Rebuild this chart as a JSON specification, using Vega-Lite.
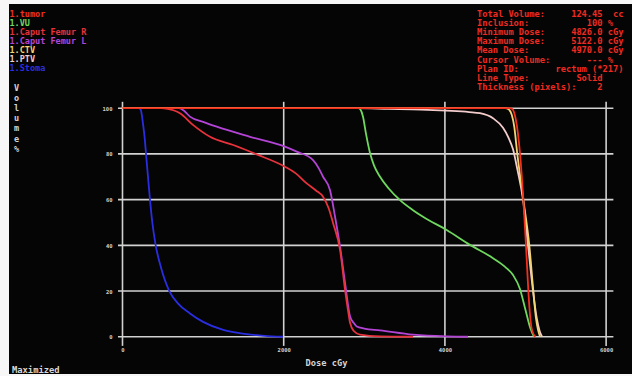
{
  "$schema": "https://vega.github.io/schema/vega-lite/v6.json",
  "width": 623,
  "height": 370,
  "autosize": {"type": "none"},
  "padding": {"left": 9, "top": 4, "right": 0, "bottom": 2},
  "background": "#f7f7f7",
  "config": {"view": {"fill": "#050505", "stroke": null}, "font": "DejaVu Sans Mono"},
  "resolve": {"axis": {"x": "independent", "y": "independent"}},
  "title": {
    "text": [
      "Total Volume:\u00a0\u00a0\u00a0\u00a0\u00a0124.45\u00a0\u00a0cc",
      "Inclusion:\u00a0\u00a0\u00a0\u00a0\u00a0\u00a0\u00a0\u00a0\u00a0\u00a0\u00a0100\u00a0%",
      "Minimum Dose:\u00a0\u00a0\u00a0\u00a0\u00a04826.0\u00a0cGy",
      "Maximum Dose:\u00a0\u00a0\u00a0\u00a0\u00a05122.0\u00a0cGy",
      "Mean Dose:\u00a0\u00a0\u00a0\u00a0\u00a0\u00a0\u00a0\u00a04970.0\u00a0cGy",
      "Cursor Volume:\u00a0\u00a0\u00a0\u00a0\u00a0\u00a0\u00a0---\u00a0%",
      "Plan ID:\u00a0\u00a0\u00a0\u00a0\u00a0\u00a0\u00a0rectum\u00a0(*217)",
      "Line Type:\u00a0\u00a0\u00a0\u00a0\u00a0\u00a0\u00a0\u00a0\u00a0Solid",
      "Thickness (pixels):\u00a0\u00a0\u00a0\u00a02"
    ],
    "orient": "top",
    "anchor": "start",
    "frame": "group",
    "offset": 0,
    "dx": 468,
    "dy": 88,
    "baseline": "top",
    "font": "DejaVu Sans Mono",
    "fontSize": 8.7,
    "fontWeight": "bold",
    "color": "#f02a20",
    "lineHeight": 9.2
  },
  "datasets": {
    "dvh": [
      {"s": "Stoma", "dose": 0, "vol": 100},
      {"s": "Stoma", "dose": 200, "vol": 100},
      {"s": "Stoma", "dose": 226, "vol": 99.3},
      {"s": "Stoma", "dose": 255, "vol": 93},
      {"s": "Stoma", "dose": 275, "vol": 87},
      {"s": "Stoma", "dose": 292, "vol": 80},
      {"s": "Stoma", "dose": 341, "vol": 60},
      {"s": "Stoma", "dose": 370, "vol": 50},
      {"s": "Stoma", "dose": 412, "vol": 40},
      {"s": "Stoma", "dose": 480, "vol": 30},
      {"s": "Stoma", "dose": 581, "vol": 20},
      {"s": "Stoma", "dose": 690, "vol": 14.5},
      {"s": "Stoma", "dose": 837, "vol": 10.2},
      {"s": "Stoma", "dose": 1000, "vol": 6.5},
      {"s": "Stoma", "dose": 1250, "vol": 3},
      {"s": "Stoma", "dose": 1450, "vol": 1.6},
      {"s": "Stoma", "dose": 1665, "vol": 0.7},
      {"s": "Stoma", "dose": 1850, "vol": 0.2},
      {"s": "Stoma", "dose": 1991, "vol": 0},
      {"s": "Caput Femur L", "dose": 0, "vol": 100},
      {"s": "Caput Femur L", "dose": 700, "vol": 100},
      {"s": "Caput Femur L", "dose": 760, "vol": 99},
      {"s": "Caput Femur L", "dose": 837, "vol": 96.3},
      {"s": "Caput Femur L", "dose": 1000, "vol": 94},
      {"s": "Caput Femur L", "dose": 1169, "vol": 91.9},
      {"s": "Caput Femur L", "dose": 1582, "vol": 87.5},
      {"s": "Caput Femur L", "dose": 2016, "vol": 83.2},
      {"s": "Caput Femur L", "dose": 2161, "vol": 81},
      {"s": "Caput Femur L", "dose": 2364, "vol": 77.3},
      {"s": "Caput Femur L", "dose": 2430, "vol": 74},
      {"s": "Caput Femur L", "dose": 2488, "vol": 70},
      {"s": "Caput Femur L", "dose": 2574, "vol": 64.2},
      {"s": "Caput Femur L", "dose": 2637, "vol": 52.5},
      {"s": "Caput Femur L", "dose": 2699, "vol": 39.4},
      {"s": "Caput Femur L", "dose": 2761, "vol": 23.6},
      {"s": "Caput Femur L", "dose": 2823, "vol": 8.9},
      {"s": "Caput Femur L", "dose": 2870, "vol": 6},
      {"s": "Caput Femur L", "dose": 2906, "vol": 4.5},
      {"s": "Caput Femur L", "dose": 3000, "vol": 3.6},
      {"s": "Caput Femur L", "dose": 3195, "vol": 2.8},
      {"s": "Caput Femur L", "dose": 3604, "vol": 0.9},
      {"s": "Caput Femur L", "dose": 4022, "vol": 0.15},
      {"s": "Caput Femur L", "dose": 4287, "vol": 0},
      {"s": "Caput Femur R", "dose": 0, "vol": 100},
      {"s": "Caput Femur R", "dose": 480, "vol": 100},
      {"s": "Caput Femur R", "dose": 560, "vol": 99.7},
      {"s": "Caput Femur R", "dose": 640, "vol": 99},
      {"s": "Caput Femur R", "dose": 713, "vol": 97.8},
      {"s": "Caput Femur R", "dose": 878, "vol": 92.6},
      {"s": "Caput Femur R", "dose": 1086, "vol": 87.5},
      {"s": "Caput Femur R", "dose": 1375, "vol": 83.9},
      {"s": "Caput Femur R", "dose": 1665, "vol": 79.8},
      {"s": "Caput Femur R", "dose": 2016, "vol": 74.4},
      {"s": "Caput Femur R", "dose": 2150, "vol": 71.5},
      {"s": "Caput Femur R", "dose": 2285, "vol": 67.1},
      {"s": "Caput Femur R", "dose": 2400, "vol": 64},
      {"s": "Caput Femur R", "dose": 2488, "vol": 61.3},
      {"s": "Caput Femur R", "dose": 2560, "vol": 56},
      {"s": "Caput Femur R", "dose": 2612, "vol": 49.8},
      {"s": "Caput Femur R", "dose": 2699, "vol": 38},
      {"s": "Caput Femur R", "dose": 2761, "vol": 20.5},
      {"s": "Caput Femur R", "dose": 2800, "vol": 11},
      {"s": "Caput Femur R", "dose": 2823, "vol": 6.1},
      {"s": "Caput Femur R", "dose": 2870, "vol": 2.5},
      {"s": "Caput Femur R", "dose": 2947, "vol": 0.9},
      {"s": "Caput Femur R", "dose": 3195, "vol": 0.15},
      {"s": "Caput Femur R", "dose": 3604, "vol": 0},
      {"s": "VU", "dose": 0, "vol": 100},
      {"s": "VU", "dose": 2930, "vol": 100},
      {"s": "VU", "dose": 2950, "vol": 99.5},
      {"s": "VU", "dose": 2984, "vol": 96.3},
      {"s": "VU", "dose": 3020, "vol": 89},
      {"s": "VU", "dose": 3071, "vol": 80.4},
      {"s": "VU", "dose": 3120, "vol": 75},
      {"s": "VU", "dose": 3195, "vol": 70},
      {"s": "VU", "dose": 3300, "vol": 65},
      {"s": "VU", "dose": 3443, "vol": 59.8},
      {"s": "VU", "dose": 3600, "vol": 55.5},
      {"s": "VU", "dose": 3728, "vol": 52.5},
      {"s": "VU", "dose": 4022, "vol": 46.7},
      {"s": "VU", "dose": 4311, "vol": 40.2},
      {"s": "VU", "dose": 4597, "vol": 34.4},
      {"s": "VU", "dose": 4750, "vol": 30.5},
      {"s": "VU", "dose": 4845, "vol": 27},
      {"s": "VU", "dose": 4930, "vol": 21},
      {"s": "VU", "dose": 4995, "vol": 12.4},
      {"s": "VU", "dose": 5060, "vol": 3.7},
      {"s": "VU", "dose": 5105, "vol": 0},
      {"s": "PTV", "dose": 0, "vol": 100},
      {"s": "PTV", "dose": 2900, "vol": 100},
      {"s": "PTV", "dose": 3300, "vol": 99.7},
      {"s": "PTV", "dose": 3700, "vol": 99.4},
      {"s": "PTV", "dose": 4022, "vol": 98.9},
      {"s": "PTV", "dose": 4300, "vol": 98.3},
      {"s": "PTV", "dose": 4435, "vol": 97.8},
      {"s": "PTV", "dose": 4597, "vol": 95.6},
      {"s": "PTV", "dose": 4721, "vol": 91.4},
      {"s": "PTV", "dose": 4790, "vol": 87},
      {"s": "PTV", "dose": 4845, "vol": 82},
      {"s": "PTV", "dose": 4900, "vol": 73},
      {"s": "PTV", "dose": 4969, "vol": 60},
      {"s": "PTV", "dose": 5031, "vol": 40},
      {"s": "PTV", "dose": 5093, "vol": 20},
      {"s": "PTV", "dose": 5140, "vol": 8},
      {"s": "PTV", "dose": 5175, "vol": 2.5},
      {"s": "PTV", "dose": 5205, "vol": 0},
      {"s": "CTV", "dose": 0, "vol": 100},
      {"s": "CTV", "dose": 4750, "vol": 100},
      {"s": "CTV", "dose": 4790, "vol": 99.5},
      {"s": "CTV", "dose": 4830, "vol": 97},
      {"s": "CTV", "dose": 4860, "vol": 92},
      {"s": "CTV", "dose": 4898, "vol": 80},
      {"s": "CTV", "dose": 4973, "vol": 60},
      {"s": "CTV", "dose": 5047, "vol": 40},
      {"s": "CTV", "dose": 5097, "vol": 20},
      {"s": "CTV", "dose": 5130, "vol": 8},
      {"s": "CTV", "dose": 5155, "vol": 3},
      {"s": "CTV", "dose": 5180, "vol": 0},
      {"s": "tumor", "dose": 0, "vol": 100},
      {"s": "tumor", "dose": 4800, "vol": 100},
      {"s": "tumor", "dose": 4830, "vol": 99.8},
      {"s": "tumor", "dose": 4860, "vol": 98},
      {"s": "tumor", "dose": 4890, "vol": 93},
      {"s": "tumor", "dose": 4932, "vol": 80},
      {"s": "tumor", "dose": 4973, "vol": 60},
      {"s": "tumor", "dose": 5006, "vol": 40},
      {"s": "tumor", "dose": 5035, "vol": 20},
      {"s": "tumor", "dose": 5060, "vol": 8},
      {"s": "tumor", "dose": 5080, "vol": 3},
      {"s": "tumor", "dose": 5122, "vol": 0}
    ],
    "hgrid": [{"g": 0}, {"g": 20}, {"g": 40}, {"g": 60}, {"g": 80}, {"g": 100}],
    "vgrid": [{"g": 0}, {"g": 2000}, {"g": 4000}, {"g": 6000}],
    "notes": [{"note": "Maximized"}]
  },
  "layer": [
    {
      "data": {"name": "hgrid"},
      "mark": {"type": "rule", "color": "#d2d2d2", "strokeWidth": 1.6},
      "encoding": {
        "y": {"field": "g", "type": "quantitative", "axis": null},
        "x": {"datum": -56, "axis": null},
        "x2": {"datum": 6090}
      }
    },
    {
      "data": {"name": "vgrid"},
      "mark": {"type": "rule", "color": "#d2d2d2", "strokeWidth": 1.6},
      "encoding": {
        "x": {"field": "g", "type": "quantitative", "axis": null},
        "y": {"datum": 102.8, "axis": null},
        "y2": {"datum": -4}
      }
    },
    {
      "data": {"name": "dvh"},
      "mark": {"type": "line", "interpolate": "monotone", "strokeWidth": 1.8},
      "encoding": {
        "x": {
          "field": "dose", "type": "quantitative",
          "scale": {"domain": [-1408, 6321], "nice": false, "zero": false},
          "axis": {
            "values": [0, 2000, 4000, 6000], "format": "d", "grid": false, "domain": false, "ticks": false, "tickSize": 0,
            "offset": -28, "labelPadding": 1, "labelFont": "DejaVu Sans Mono", "labelFontSize": 5.5,
            "labelFontWeight": "bold", "labelColor": "#cfcfcf", "labelFlush": false, "labelOverlap": false,
            "labelBaseline": "top",
            "title": "Dose cGy", "titleFont": "DejaVu Sans Mono", "titleFontSize": 8.7, "titleFontWeight": "bold",
            "titleColor": "#d4d4d4", "titleX": 317, "titleY": 16, "titleAlign": "center", "titleBaseline": "middle"
          }
        },
        "y": {
          "field": "vol", "type": "quantitative",
          "scale": {"domain": [-16.3, 145.6], "nice": false, "zero": false},
          "axis": {
            "orient": "left",
            "values": [0, 20, 40, 60, 80, 100], "format": "d", "grid": false, "domain": false, "ticks": false, "tickSize": 0,
            "offset": -104, "labelPadding": 1, "labelFont": "DejaVu Sans Mono", "labelFontSize": 5.5,
            "labelFontWeight": "bold", "labelColor": "#cfcfcf", "labelFlush": false, "labelOverlap": false,
            "labelAlign": "right", "labelBaseline": "middle",
            "title": ["V", "o", "l", "u", "m", "e", "%"], "titleFont": "DejaVu Sans Mono", "titleFontSize": 8.5,
            "titleFontWeight": "bold", "titleColor": "#d4d4d4", "titleAngle": 0, "titleX": -97, "titleY": 79,
            "titleAlign": "center", "titleBaseline": "top", "titleLineHeight": 10.2
          }
        },
        "color": {
          "field": "s", "type": "nominal",
          "scale": {
            "domain": ["tumor", "VU", "Caput Femur R", "Caput Femur L", "CTV", "PTV", "Stoma"],
            "range": ["#f2301e", "#6fd85e", "#e8323c", "#b444d6", "#f2d472", "#f3cccc", "#2a2ee0"]
          },
          "legend": {
            "orient": "none", "legendX": -8, "legendY": 6, "title": null, "padding": 0,
            "symbolSize": 0, "symbolStrokeWidth": 0, "symbolOpacity": 0, "labelOffset": 0,
            "labelFont": "DejaVu Sans Mono", "labelFontSize": 8.5, "labelFontWeight": "bold",
            "rowPadding": 0, "labelLimit": 300, "labelExpr": "'1.' + datum.label",
            "encode": {"labels": {"update": {"fill": {"scale": "color", "field": "value"}}}}
          }
        }
      }
    },
    {
      "data": {"name": "notes"},
      "mark": {"type": "text", "align": "left", "baseline": "middle", "font": "DejaVu Sans Mono", "fontSize": 8.8, "fontWeight": "bold", "color": "#d9d9d9"},
      "encoding": {
        "text": {"field": "note"},
        "x": {"datum": -1371, "axis": null},
        "y": {"datum": -14.6, "axis": null}
      }
    }
  ]
}
